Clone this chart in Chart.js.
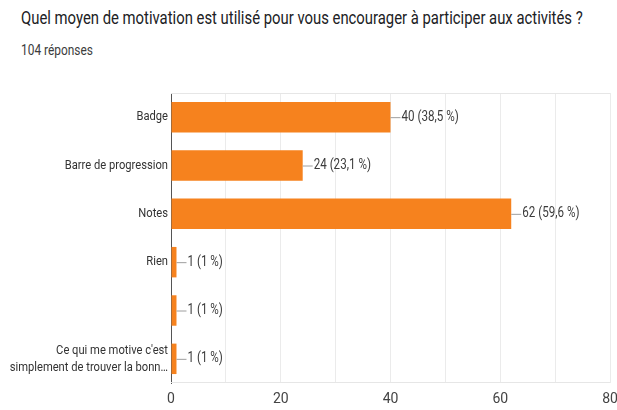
<!DOCTYPE html>
<html>
<head>
<meta charset="utf-8">
<script src="https://cdn.jsdelivr.net/npm/chart.js@4/dist/chart.umd.min.js"></script>
<style>
  html, body { margin: 0; padding: 0; background: #fff; }
  #wrap { position: relative; width: 617px; height: 410px; overflow: hidden; }
  #title { position: absolute; left: 21px; top: 7px; font-family: Roboto, sans-serif; font-size: 18px; color: #202124; white-space: nowrap; transform-origin: 0 0; transform: scaleX(0.825); }
  #sub { position: absolute; left: 21px; top: 42px; font-family: Roboto, sans-serif; font-size: 14px; color: #3c3c3c; transform-origin: 0 0; transform: scaleX(0.85); }
  canvas { position: absolute; left: 0; top: 0; }
</style>
</head>
<body>
<div id="wrap">
  <div id="title">Quel moyen de motivation est utilisé pour vous encourager à participer aux activités ?</div>
  <div id="sub">104 réponses</div>
  <canvas id="graph" width="617" height="410"></canvas>
</div>
<script>
// données
const categories = [
  "Badge",
  "Barre de progression",
  "Notes",
  "Rien",
  "",
  ["Ce qui me motive c'est", "simplement de trouver la bonn…"],
];
const counts = [40, 24, 62, 1, 1, 1];
const percents = ["38,5", "23,1", "59,6", "1", "1", "1"];
const xTicks = [0, 20, 40, 60, 80];

// texte un peu condensé comme sur l'image
function drawNarrow(ctx, text, x, y, sx) {
  ctx.save();
  ctx.translate(x, y);
  ctx.scale(sx, 1);
  ctx.fillText(text, 0, 0);
  ctx.restore();
}

const labelsPlugin = {
  id: "labelsPlugin",
  beforeDatasetsDraw(chart) {
    // bordures haut / bas de la zone de tracé
    const { ctx, chartArea } = chart;
    ctx.save();
    ctx.strokeStyle = "#e6e6e6";
    ctx.lineWidth = 1;
    ctx.beginPath();
    ctx.moveTo(chartArea.left, chartArea.top + 0.5);
    ctx.lineTo(chartArea.right, chartArea.top + 0.5);
    ctx.moveTo(chartArea.left, chartArea.bottom - 0.5);
    ctx.lineTo(chartArea.right, chartArea.bottom - 0.5);
    ctx.stroke();
    ctx.restore();
  },
  afterDatasetsDraw(chart) {
    const ctx = chart.ctx;
    const meta = chart.getDatasetMeta(0);
    const yScale = chart.scales.y;
    ctx.save();
    ctx.textBaseline = "middle";

    // noms des catégories (axe y)
    ctx.font = "13px Roboto, sans-serif";
    ctx.fillStyle = "#333";
    ctx.textAlign = "right";
    categories.forEach((lab, i) => {
      const y = yScale.getPixelForValue(i);
      const lines = Array.isArray(lab) ? lab : [lab];
      const lh = 17;
      lines.forEach((t, k) => {
        const yy = y + (k - (lines.length - 1) / 2) * lh;
        drawNarrow(ctx, t, chart.chartArea.left - 3, yy, 0.86);
      });
    });

    // étiquettes "—40 (38,5 %)" au bout des barres
    ctx.font = "14px Roboto, sans-serif";
    ctx.textAlign = "left";
    meta.data.forEach((bar, i) => {
      const x = bar.x;
      const y = bar.y;
      ctx.strokeStyle = "#9e9e9e";
      ctx.lineWidth = 1;
      ctx.beginPath();
      ctx.moveTo(x, y + 0.5);
      ctx.lineTo(x + 10, y + 0.5);
      ctx.stroke();
      ctx.fillStyle = "#3c3c3c";
      drawNarrow(ctx, counts[i] + " (" + percents[i] + " %)", x + 11, y, 0.83);
    });
    ctx.restore();
  },
};

const config = {
  type: "bar",
  data: {
    labels: categories,
    datasets: [
      {
        data: counts,
        backgroundColor: "#f6821e",
        borderWidth: 0,
        barPercentage: 0.63,
        categoryPercentage: 1,
      },
    ],
  },
  options: {
    indexAxis: "y",
    responsive: false,
    animation: false,
    layout: { padding: { top: 93, right: 7, bottom: 0, left: 0 } },
    plugins: {
      legend: { display: false },
      tooltip: { enabled: false },
    },
    scales: {
      x: {
        min: 0,
        max: 80,
        ticks: {
          stepSize: 10,
          color: "#444",
          font: { family: "Roboto, sans-serif", size: 14 },
          padding: 8,
          maxRotation: 0,
          callback: (v) => (xTicks.includes(v) ? v : ""),
        },
        grid: {
          color: (c) => (c.tick && c.tick.value === 0 ? "#555" : "#ebebeb"),
          drawTicks: false,
        },
        border: { display: false },
        afterFit: (scale) => {
          scale.height = 27;
          scale.paddingLeft = 0;
          scale.paddingRight = 0;
        },
      },
      y: {
        grid: { display: false },
        border: { color: "#555" },
        ticks: { display: false },
        afterFit: (scale) => { scale.width = 171; },
      },
    },
  },
  plugins: [labelsPlugin],
};

new Chart(document.getElementById("graph"), config);
</script>
</body>
</html>
